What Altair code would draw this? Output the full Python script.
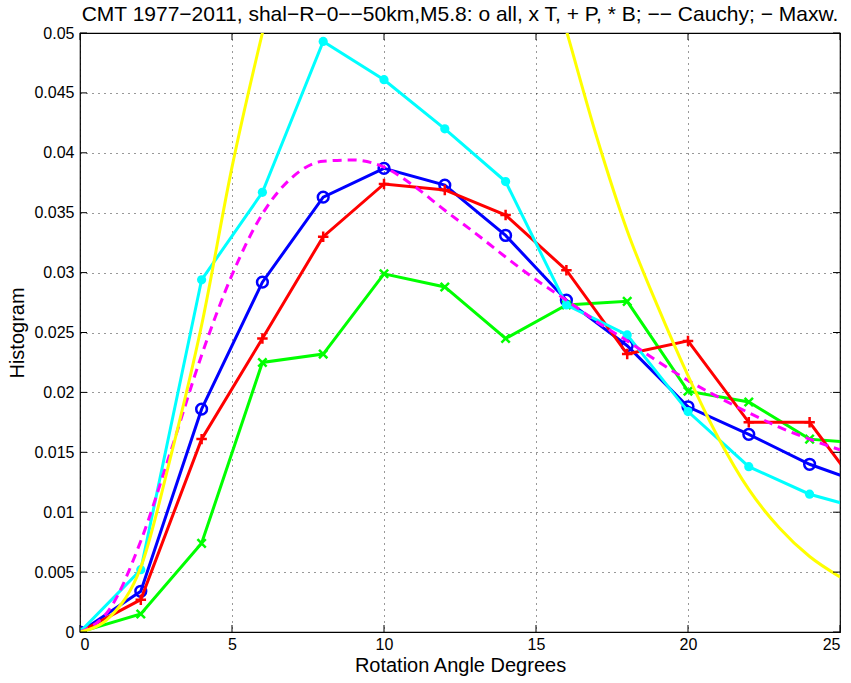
import altair as alt
import pandas as pd

# ---- data ----
x_hist = [0, 2, 4, 6, 8, 10, 12, 14, 16, 18, 20, 22, 24, 26]
y_all = [0, 0.0034, 0.0186, 0.0292, 0.0363, 0.0387, 0.0373, 0.0331, 0.0277, 0.0239, 0.0188, 0.0165, 0.0140, 0.0122]
y_T = [0, 0.0015, 0.0074, 0.0225, 0.0232, 0.0299, 0.0288, 0.0245, 0.0273, 0.0276, 0.0201, 0.0192, 0.0161, 0.0157]
y_P = [0, 0.0027, 0.0161, 0.0245, 0.0330, 0.0374, 0.0369, 0.0348, 0.0302, 0.0232, 0.0243, 0.0175, 0.0175, 0.0107]
y_B = [0, 0.0052, 0.0294, 0.0367, 0.0493, 0.0461, 0.0420, 0.0376, 0.0273, 0.0248, 0.0184, 0.0138, 0.0115, 0.0101]

x_cauchy = [0, 1, 2, 3, 4, 5, 6, 7, 8, 9, 10, 11, 12, 13, 14, 15, 16, 17, 18, 19, 20, 21, 22, 23, 24, 25]
y_cauchy = [0, 0.0020, 0.0076, 0.0152, 0.0231, 0.0298, 0.0349, 0.0380, 0.0393, 0.0394, 0.0388, 0.0372, 0.0352, 0.0333, 0.0313, 0.0294, 0.0277, 0.0259, 0.0243, 0.0226, 0.0210, 0.0196, 0.0183, 0.0171, 0.0161, 0.0152]

x_maxw = [0, 1, 2, 3, 4, 5, 6, 7, 15, 16, 17, 18, 19, 20, 21, 22, 23, 24, 25]
y_maxw = [0, 0.0013, 0.0054, 0.0148, 0.0256, 0.0388, 0.0500, 0.0600, 0.0590, 0.0502, 0.0413, 0.0335, 0.0272, 0.0214, 0.0162, 0.0119, 0.0087, 0.0063, 0.0046]

x_ticks = [0, 5, 10, 15, 20, 25]
y_ticks = [0, 0.005, 0.01, 0.015, 0.02, 0.025, 0.03, 0.035, 0.04, 0.045, 0.05]

title_text = "CMT 1977\u22122011, shal\u2212R\u22120\u2212\u221250km,M5.8: o all, x T, + P, * B; \u2212\u2212 Cauchy; \u2212 Maxw."

W, H = 760, 599
FONT = "Liberation Sans"

xs = alt.Scale(domain=[0, 25], nice=False, zero=False)
ys = alt.Scale(domain=[0, 0.05], nice=False, zero=False)

xenc = alt.X("x:Q", scale=xs, axis=alt.Axis(values=x_ticks, title="Rotation Angle Degrees"))
yenc = alt.Y("y:Q", scale=ys, axis=alt.Axis(values=y_ticks, format="~g", title="Histogram"))


def df(xv, yv):
    return pd.DataFrame({"x": xv, "y": yv})


PLUS = "M-1,0L1,0M0,-1L0,1"
CROSS = "M-1,-1L1,1M-1,1L1,-1"


def series(xv, yv, color, shape, size, filled):
    base = alt.Chart(df(xv, yv)).encode(x=xenc, y=yenc)
    line = base.mark_line(color=color, strokeWidth=3, clip=True)
    pts = base.mark_point(color=color, shape=shape, size=size, filled=filled,
                          strokeWidth=2.5, opacity=1, clip=True)
    return line + pts


blue = series(x_hist, y_all, "#0000ff", "circle", 115, False)
green = series(x_hist, y_T, "#00ff00", CROSS, 70, False)
red = series(x_hist, y_P, "#ff0000", PLUS, 110, False)
cyan = series(x_hist, y_B, "#00ffff", "circle", 85, True)

cauchy = alt.Chart(df(x_cauchy, y_cauchy)).mark_line(
    color="#ff00ff", strokeWidth=3, strokeDash=[9, 6], interpolate="monotone", clip=True
).encode(x=xenc, y=yenc)

maxw = alt.Chart(df(x_maxw, y_maxw)).mark_line(
    color="#ffff00", strokeWidth=3, interpolate="monotone", clip=True
).encode(x=xenc, y=yenc)

# inward tick marks on all four sides (matlab style)
TL = 7
xt = pd.DataFrame({"x": x_ticks})
yt = pd.DataFrame({"y": y_ticks})
tick_bottom = alt.Chart(xt).mark_rule(color="black", strokeWidth=1).encode(
    x=alt.X("x:Q", scale=xs), y=alt.value(H), y2=alt.value(H - TL))
tick_top = alt.Chart(xt).mark_rule(color="black", strokeWidth=1).encode(
    x=alt.X("x:Q", scale=xs), y=alt.value(0), y2=alt.value(TL))
tick_left = alt.Chart(yt).mark_rule(color="black", strokeWidth=1).encode(
    y=alt.Y("y:Q", scale=ys), x=alt.value(0), x2=alt.value(TL))
tick_right = alt.Chart(yt).mark_rule(color="black", strokeWidth=1).encode(
    y=alt.Y("y:Q", scale=ys), x=alt.value(W), x2=alt.value(W - TL))

chart = alt.layer(
    blue, green, red, cyan, cauchy, maxw,
    tick_bottom, tick_top, tick_left, tick_right
).properties(
    width=W, height=H,
    background="white",
    title=alt.TitleParams(title_text, fontSize=21, font=FONT, fontWeight="normal",
                          anchor="middle", color="black", offset=0),
    autosize=alt.AutoSizeParams(type="none"),
    padding={"left": 80, "top": 33, "right": 11, "bottom": 51},
).configure_view(
    stroke="black", strokeWidth=1.2
).configure_axis(
    domain=False, ticks=False, grid=True, gridColor="black", gridDash=[1, 5],
    gridOpacity=0.8, gridWidth=1,
    labelFont=FONT, labelFontSize=16, labelColor="black",
    titleFont=FONT, titleFontSize=20, titleFontWeight="normal", titleColor="black",
).configure_axisX(
    labelPadding=4, titlePadding=3
).configure_axisY(
    labelPadding=6, titlePadding=6
)

chart.save("out.html", embed_options={"renderer": "svg", "actions": False})
